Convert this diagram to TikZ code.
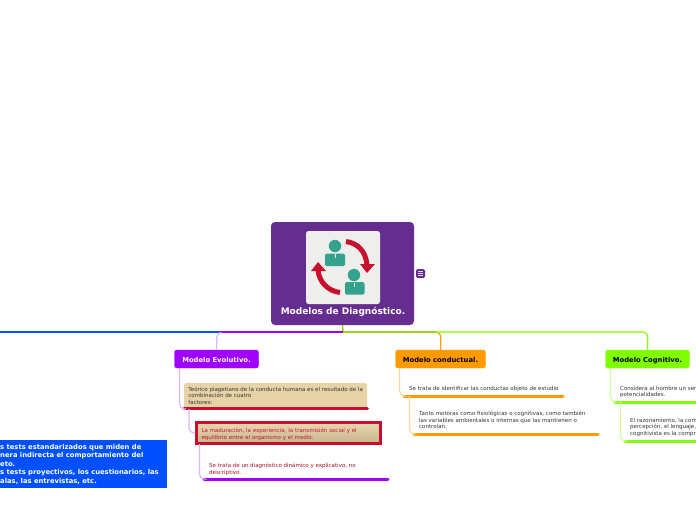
\documentclass[tikz,border=0pt]{standalone}
\usepackage{fontspec}
\setmainfont{DejaVu Sans}
\definecolor{rootpurple}{HTML}{662D91}
\definecolor{iconbg}{HTML}{EEEFEC}
\definecolor{iconteal}{HTML}{34A38D}
\definecolor{iconred}{HTML}{C8102E}
\definecolor{evopurple}{HTML}{A000FF}
\definecolor{evolight}{HTML}{DDB3FF}
\definecolor{condorange}{HTML}{FF9B00}
\definecolor{condlight}{HTML}{FFD699}
\definecolor{coggreen}{HTML}{80FF00}
\definecolor{coglight}{HTML}{CCFF99}
\definecolor{linkgreen}{HTML}{9BD31C}
\definecolor{testblue}{HTML}{0050FF}
\definecolor{tanbox}{HTML}{E8D3A6}
\begin{document}
\begin{tikzpicture}[
	x=1pt, y=-1pt,
	branch/.style={ draw=#1, fill=#1, rounded corners=2.5pt, inner sep=0pt, text height=6.5pt, text depth=0pt, font=\fontsize{6.8}{8}\selectfont\bfseries },
	subtext/.style={ anchor=north west, inner sep=0pt, align=left, font=\fontsize{5.5}{6.6}\selectfont, text=black!80 },
	underline/.style={ draw=#1, line width=3pt, line cap=round },
	link/.style={ draw=#1, line width=1.2pt, rounded corners=5pt },
	person/.style={ fill=iconteal, rounded corners=1.5pt }
]
\clip (0,0) rectangle (696,520);

\node at (342.5,273.5) (root) [fill=rootpurple, rounded corners=4pt, minimum width=143pt, minimum height=103pt, inner sep=0pt] {};
\node at (343,267.5) (iconbox) [fill=iconbg, rounded corners=2.5pt, minimum width=74pt, minimum height=73pt, inner sep=0pt] {};
\node at (343,312) (title) [text=white, inner sep=0pt, font=\fontsize{9}{10}\selectfont\bfseries] {Modelos de Diagnóstico.};
\node at (420.5,273.5) (note) [fill=rootpurple, rounded corners=1.5pt, minimum size=9pt, inner sep=0pt] {};
\foreach \y in {271.5,273.5,275.5} \draw[white!85!black, line width=0.7pt] (418,\y) -- (423,\y);

\fill[iconteal] (335,246) circle (6.2pt);
\fill[person] (325,253.5) rectangle (345,266);
\draw[iconbg, line width=0.5pt] (335,254) -- (335,258);
\fill[iconteal] (354,275) circle (6.2pt);
\fill[person] (345,282) rectangle (364.5,294.5);
\draw[iconbg, line width=0.5pt] (354.5,282.5) -- (354.5,286.5);
\draw[iconred, line width=5pt] (346,241.5) .. controls (358,243) and (366,252) .. (367,265);
\fill[iconred] (360,264) -- (375,264) -- (367,273) -- cycle;
\draw[iconred, line width=5pt] (340,292.5) .. controls (328,291) and (319,282) .. (318,270);
\fill[iconred] (311,271) -- (326,271) -- (318,262) -- cycle;

\node at (216.5,359) (evo) [branch=evopurple, minimum width=84pt, minimum height=18pt, text=white] {Modelo Evolutivo.};
\node at (440.5,359) (cond) [branch=condorange, minimum width=90pt, minimum height=18pt, text=black] {Modelo conductual.};
\node at (647.5,359) (cog) [branch=coggreen, minimum width=84pt, minimum height=18pt, text=black] {Modelo Cognitivo.};

\coordinate (fork) at (343,332);
\coordinate (blueend) at (-2,332);
\draw[linkgreen, line width=1.6pt] (root.south) to (fork);
\draw[testblue, line width=1.2pt] (221,332) to (blueend);
\draw[link=evolight] (evo.north) to (217,332) to (223,332);
\draw[evopurple, line width=1.2pt] (fork) to (221,332);
\draw[linkgreen, line width=1.2pt] (fork) to (436,332);
\draw[link=condorange] (cond.north) to (441,332) to (434,332);
\draw[link=coggreen] (434,332) to (648,332) to (cog.north);

\node at (184,383) (factors) [subtext, fill=tanbox, rounded corners=1.5pt, minimum width=183pt, minimum height=25pt] {Teórico piagetiano de la conducta humana es el resultado de la\\combinación de cuatro\\factores:};
\draw[underline=iconred] (factors.south west) to (factors.south east);
\node at (195,421) (balance) [subtext, draw=iconred, line width=3pt, top color=tanbox!90!white, bottom color=tanbox!85!black, minimum height=21pt, text width=174pt, inner xsep=5pt, text=iconred] {\rule{0pt}{7pt}La maduración, la experiencia, la transmisión social y el\\equilibrio entre el organismo y el medio.};
\node at (209,463) (diagnosis) [subtext, text=iconred!85!black] {Se trata de un diagnóstico dinámico y explicativo, no\\descriptivo.};
\coordinate (diagnosisleft) at (204,479);
\coordinate (diagnosisright) at (388,479);
\draw[underline=evopurple] (diagnosisleft) to (diagnosisright);
\coordinate (evoa) at (186,409);
\draw[link=evolight] (179.5,368) to (179.5,409) to (evoa);
\draw[link=evolight] (189,409) to (189,433) to (balance.west);
\draw[link=evolight] (199.5,444) to (199.5,479) to (diagnosisleft);

\node at (409,386.5) (conductas) [subtext] {Se trata de identificar las conductas objeto de estudio};
\coordinate (conda) at (404,396);
\coordinate (condb) at (563,396);
\draw[underline=condorange] (conda) to (condb);
\node at (419,411) (motoras) [subtext] {Tanto motoras como fisiológicas o cognitivas, como también\\las variables ambientales o internas que las mantienen o\\controlan.};
\coordinate (condc) at (414,434);
\coordinate (condd) at (598,434);
\draw[underline=condorange] (condc) to (condd);
\draw[link=condlight] (399.5,368) to (399.5,396) to (conda);
\draw[link=condlight] (409.5,396) to (409.5,434) to (condc);

\node at (620,386) (hombre) [subtext] {Considera al hombre un ser\\potencialidades.};
\coordinate (coga) at (615,402);
\coordinate (cogb) at (698,402);
\draw[underline=coggreen] (coga) to (cogb);
\node at (630,418) (razon) [subtext] {El razonamiento, la com\\percepción, el lenguaje,\\cognitivista es la compr};
\coordinate (cogc) at (625,441);
\coordinate (cogd) at (698,441);
\draw[underline=coggreen] (cogc) to (cogd);
\draw[link=coglight] (610.5,368) to (610.5,402) to (coga);
\draw[link=coglight] (620.5,402) to (620.5,441) to (cogc);

\node at (-2,440) (tests) [anchor=north west, fill=testblue, minimum width=169pt, minimum height=48pt, inner sep=0pt] {};
\node at (0,464) (teststext) [anchor=west, inner sep=0pt, align=left, text=white, font=\fontsize{6.8}{8.5}\selectfont\bfseries] {s tests estandarizados que miden de\\nera indirecta el comportamiento del\\eto.\\s tests proyectivos, los cuestionarios, las\\alas, las entrevistas, etc.};
\end{tikzpicture}
\end{document}
